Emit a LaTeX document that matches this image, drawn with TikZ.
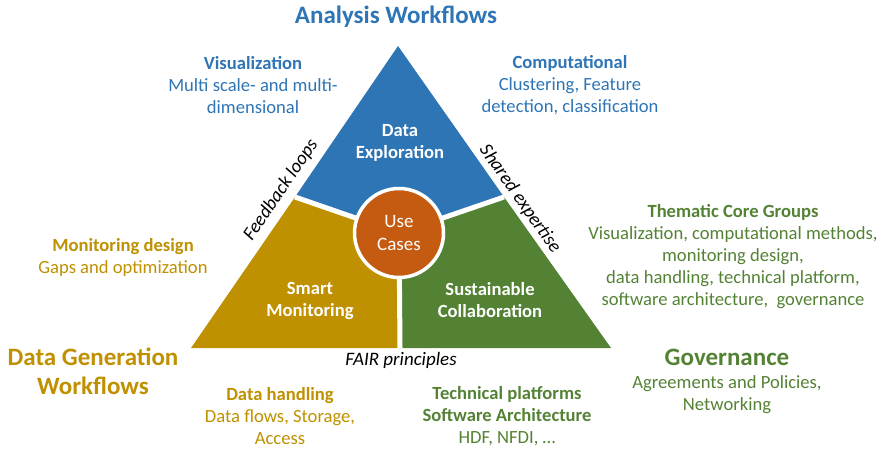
\documentclass[tikz,border=0pt]{standalone}
\usepackage{fontspec}
\setmainfont{Carlito}
\definecolor{cblue}{HTML}{2E75B6}
\definecolor{cgold}{HTML}{BF9000}
\definecolor{cgreen}{HTML}{548235}
\definecolor{corange}{HTML}{C55A11}
\begin{document}
\begin{tikzpicture}[x=1pt,y=-1pt,
  txt/.style={align=center,font=\fontsize{18.6}{22}\selectfont,inner sep=0pt},
  head/.style={txt,font=\fontsize{25}{29}\selectfont\bfseries},
  inner/.style={txt,text=white,font=\fontsize{18.6}{22.5}\selectfont\bfseries},
  edge/.style={txt,font=\fontsize{19}{22}\selectfont\itshape},
  divider/.style={white,line width=5pt}]
\useasboundingbox (0,0) rectangle (885,452);
% geometry
\coordinate (A) at (398,46);
\coordinate (BL) at (191,348);
\coordinate (BR) at (611,348);
\coordinate (C) at (399,233);
\coordinate (ML) at (295,197);
\coordinate (MR) at (504,197);
\coordinate (MB) at (400,348);
% regions
\fill[cblue] (A) -- (ML) -- (C) -- (MR) -- cycle;
\fill[cgold] (ML) -- (BL) -- (MB) -- (C) -- cycle;
\fill[cgreen] (C) -- (MB) -- (BR) -- (MR) -- cycle;
\draw[divider] (C) -- (ML);
\draw[divider] (C) -- (MR);
\draw[divider] (C) -- (MB);
\node[circle,fill=corange,draw=white,line width=3.5pt,minimum size=89pt,inner sep=0pt] (uc) at (C) {};
\node[txt,text=white,font=\fontsize{19}{23}\selectfont] (uct) at (399,233) {Use\\Cases};
% inner labels
\node[inner] (de) at (400,143) {Data\\Exploration};
\node[inner] (sm) at (310,301) {Smart\\Monitoring};
\node[inner] (sc) at (490,300) {Sustainable\\Collaboration};
% edge labels
\node[edge,rotate=55.8] (fb) at (281,190) {Feedback loops};
\node[edge,rotate=-54.8] (se) at (520,199) {Shared expertise};
\node[edge] (fair) at (401,360) {FAIR principles};
% headings
\node[head,text=cblue] (aw) at (396,17) {Analysis Workflows};
\node[head,text=cgold] (dg) at (93,371) {Data Generation\\Workflows};
\node[head,text=cgreen] (gov) at (727,357) {Governance};
% outer texts
\node[txt,text=cblue] (vis) at (253,85) {\textbf{Visualization}\\Multi scale- and multi-\\dimensional};
\node[txt,text=cblue] (comp) at (570,85) {\textbf{Computational}\\Clustering, Feature\\detection, classification};
\node[txt,text=cgold] (md) at (123,257) {\textbf{Monitoring design}\\Gaps and optimization};
\node[txt,text=cgold] (dh) at (280,416) {\textbf{Data handling}\\Data flows, Storage,\\Access};
\node[txt,text=cgreen] (tp) at (507,416) {\textbf{Technical platforms}\\\textbf{Software Architecture}\\HDF, NFDI, \dots};
\node[txt,text=cgreen] (tcg) at (733,257) {\textbf{Thematic Core Groups}\\Visualization, computational methods,\\monitoring design,\\data handling, technical platform,\\software architecture,\ \ governance};
\node[txt,text=cgreen] (govt) at (727,395) {Agreements and Policies,\\Networking};
\end{tikzpicture}
\end{document}
